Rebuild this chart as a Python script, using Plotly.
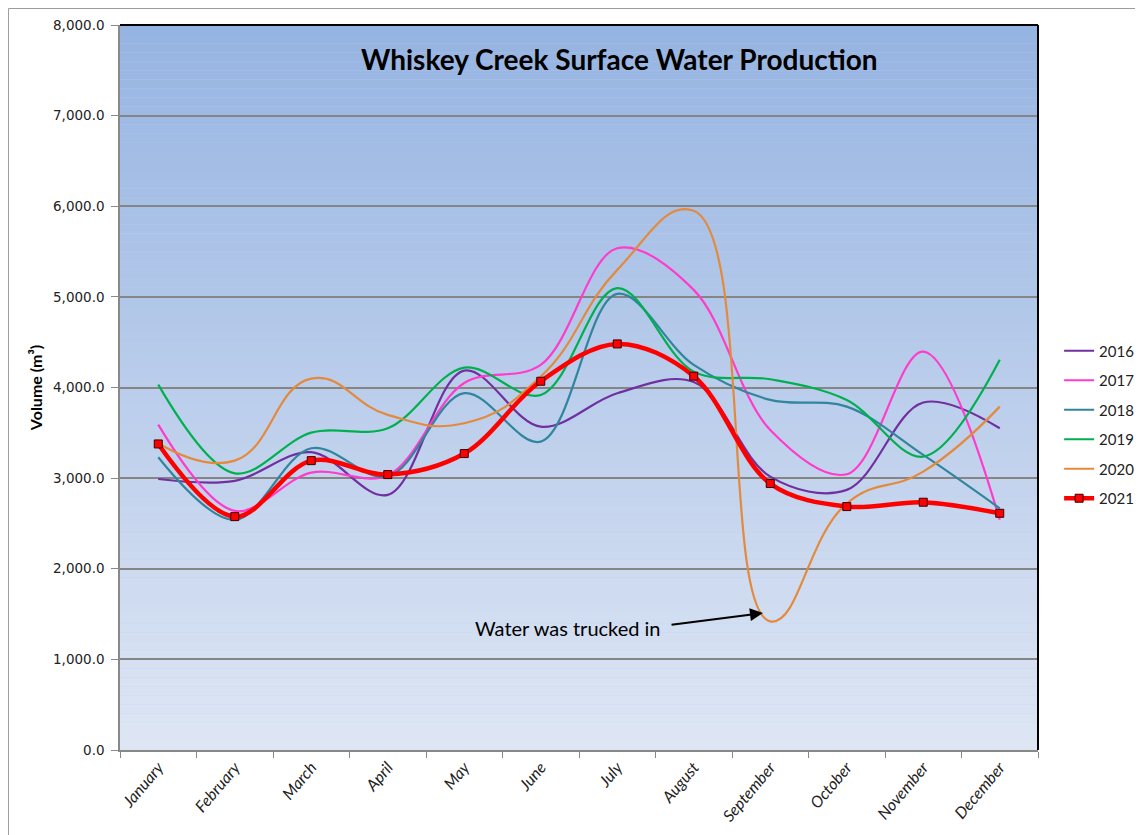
import plotly.graph_objects as go

months = ["January", "February", "March", "April", "May", "June", "July",
          "August", "September", "October", "November", "December"]

v2016 = [2990, 2970, 3286, 2815, 4187, 3568, 3937, 4060, 3017, 2870, 3834, 3550]
v2017 = [3590, 2638, 3061, 3030, 4050, 4249, 5537, 5077, 3532, 3043, 4396, 2540]
v2018 = [3230, 2539, 3330, 3017, 3937, 3403, 5033, 4249, 3863, 3789, 3256, 2667]
v2019 = [4032, 3053, 3502, 3550, 4219, 3918, 5096, 4175, 4091, 3863, 3237, 4305]
v2020 = [3385, 3193, 4098, 3698, 3606, 4120, 5298, 5950, 1420, 2720, 3072, 3789]
v2021 = [3377, 2575, 3193, 3039, 3271, 4069, 4481, 4125, 2940, 2686, 2734, 2612]

series = [
    ("2016", v2016, "#7030A0", 1.0),
    ("2017", v2017, "#FF3BCB", 1.0),
    ("2018", v2018, "#31859C", 1.0),
    ("2019", v2019, "#00B050", 1.0),
    ("2020", v2020, "#E38A3C", 1.3),
]

fig = go.Figure()
for name, vals, col, sm in series:
    fig.add_trace(go.Scatter(
        x=months, y=vals, name=name, mode="lines",
        line=dict(color=col, width=2.2, shape="spline", smoothing=sm),
        legendgroup=name,
    ))
fig.add_trace(go.Scatter(
    x=months, y=v2021, name="2021", mode="lines+markers",
    line=dict(color="#FF0000", width=4.5, shape="spline", smoothing=1.0),
    marker=dict(symbol="square", size=8, color="#FF0000",
                line=dict(color="#3a0000", width=1)),
    legendgroup="2021",
))

# gradient background strips
shapes = []
n = 80
top = (150, 180, 226)
bot = (222, 230, 244)
for k in range(n):
    t = k / (n - 1)
    c = tuple(int(round(top[j] + (bot[j] - top[j]) * t)) for j in range(3))
    shapes.append(dict(type="rect", xref="paper", yref="paper",
                       x0=0, x1=1, y0=1 - (k + 1) / n, y1=1 - k / n,
                       fillcolor="rgb(%d,%d,%d)" % c, line=dict(width=0),
                       layer="below"))
# plot border top/right (black)
shapes.append(dict(type="line", xref="paper", yref="paper", x0=0, x1=1, y0=1, y1=1,
                   line=dict(color="black", width=2), layer="above"))
shapes.append(dict(type="line", xref="paper", yref="paper", x0=1, x1=1, y0=0, y1=1,
                   line=dict(color="black", width=2), layer="above"))
# outer chart border
shapes.append(dict(type="rect", xref="paper", yref="paper",
                   x0=-0.1215, x1=1.25, y0=-0.3, y1=1.0228,
                   line=dict(color="#9a9a9a", width=1), fillcolor="rgba(0,0,0,0)",
                   layer="below"))

fig.update_layout(
    width=1135, height=827,
    margin=dict(l=112, r=105, t=17, b=85, autoexpand=False),
    paper_bgcolor="white",
    plot_bgcolor="rgb(190,206,235)",
    shapes=shapes,
    showlegend=True,
    legend=dict(x=1.023, y=0.449, xanchor="left", yanchor="middle",
                font=dict(family="Lato, Open Sans, sans-serif", size=15, color="#222"),
                traceorder="grouped", tracegroupgap=7,
                bgcolor="rgba(0,0,0,0)", itemwidth=30),
    annotations=[
        dict(text="<b>Whiskey Creek Surface Water Production</b>", xref="paper", yref="paper",
             x=0.544, y=0.953, xanchor="center", yanchor="middle", showarrow=False,
             font=dict(family="Lato, sans-serif", size=28, color="black")),
        dict(text="Water was trucked in", xref="paper", yref="paper",
             x=0.488, y=0.168, xanchor="center", yanchor="middle", showarrow=False,
             font=dict(family="Lato, sans-serif", size=20, color="black")),
        dict(text="", x=7.905, y=1512, xref="x", yref="y",
             ax=6.69, ay=1380, axref="x", ayref="y",
             showarrow=True, arrowhead=2, arrowsize=1.3, arrowwidth=2, arrowcolor="black"),
    ],
    xaxis=dict(
        type="category", tickangle=-50, tickson="boundaries",
        range=[-0.5, 11.5],
        ticks="outside", ticklen=6, tickcolor="#888",
        showline=True, linecolor="#888", linewidth=1.5,
        showgrid=False, automargin=False,
        tickfont=dict(family="Lato, sans-serif", size=16, style="italic", color="#222"),
    ),
    yaxis=dict(
        range=[0, 8000], dtick=1000, tickformat=",.1f",
        ticks="outside", ticklen=7, tickcolor="#888", ticklabelstandoff=4,
        showline=True, linecolor="#888", linewidth=1.5,
        showgrid=True, gridcolor="#858585", gridwidth=1.6,
        zeroline=False, automargin=False,
        tickfont=dict(family="DejaVu Sans, Verdana, sans-serif", size=13.5, color="#222"),
        title=dict(text="<b>Volume (m³)</b>", standoff=6,
                   font=dict(family="Lato, sans-serif", size=16, color="black")),
    ),
)

fig.write_html("out.html")
